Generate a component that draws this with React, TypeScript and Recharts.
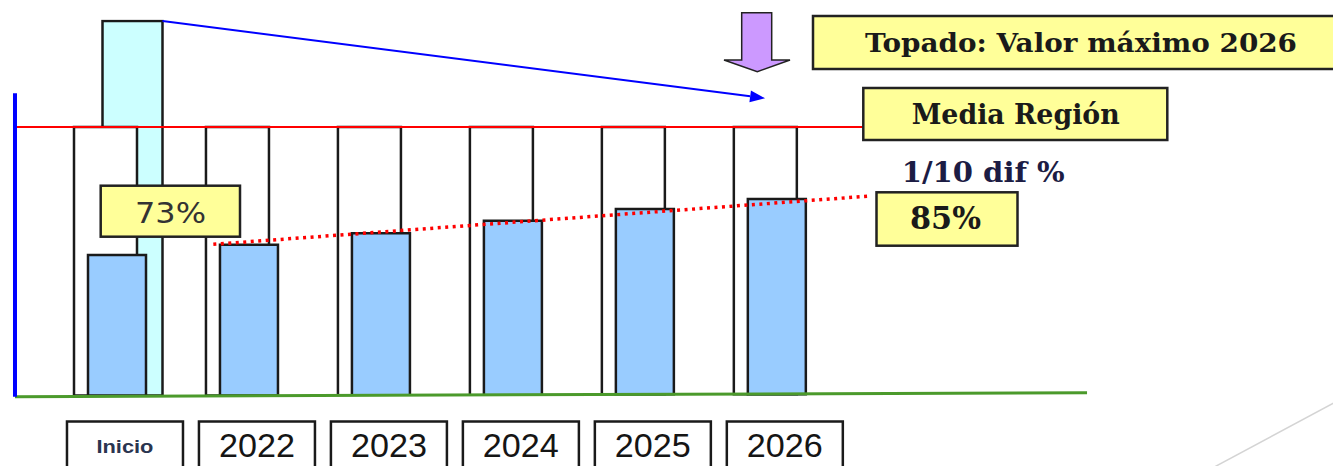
import { ComposedChart, Bar, XAxis, YAxis, ReferenceLine } from 'recharts';

// values, Media Región = 100
const categories = ['Inicio', '2022', '2023', '2024', '2025', '2026'];
const actualValues = [52.3, 56.1, 60.4, 65.1, 69.5, 73.2];
const mediaValues = [100, 100, 100, 100, 100, 100];
const maxValues = [139.5, null, null, null, null, null];

const mediaRegion = 100;
// trend / arrow on the hidden numeric axis: 0 = centre of "Inicio", 1 = "2022", ...
const trendLine = [{ x: 0.73, y: 56.3 }, { x: 5.71, y: 74.3 }];
const capArrow = [{ x: 0.345, y: 139.5 }, { x: 4.911, y: 110.7 }];

const data = categories.map((cat, i) => ({
  cat,
  actual: actualValues[i],
  media: mediaValues[i],
  max: maxValues[i],
}));

const W = 1333;
const H = 466;

const YearTick = (props: any) => {
  const { x, y, payload } = props;
  const label = payload.value as string;
  const cx = x + 8;
  const small = label === 'Inicio';
  return (
    <g>
      <rect x={cx - 58} y={y + 26} width={116} height={60} fill="#fff" stroke="#1a1a1a" strokeWidth={2.5} />
      <text
        x={cx}
        y={small ? y + 57.5 : y + 61.5}
        textAnchor="middle"
        fontFamily="'Liberation Sans', Arial, sans-serif"
        fontSize={small ? 19 : 33}
        fontWeight={small ? 700 : 400}
        fill={small ? '#2a3550' : '#151515'}
        textLength={small ? 57 : 76}
        lengthAdjust="spacingAndGlyphs"
      >
        {label}
      </text>
    </g>
  );
};

const ArrowLine = (props: any) => {
  const { x1, y1, x2, y2 } = props;
  const ang = Math.atan2(y2 - y1, x2 - x1);
  const len = 15;
  const half = 6;
  const bx = x2 - len * Math.cos(ang);
  const by = y2 - len * Math.sin(ang);
  const px = -Math.sin(ang) * half;
  const py = Math.cos(ang) * half;
  return (
    <g>
      <line x1={x1} y1={y1} x2={bx} y2={by} stroke="#0000ff" strokeWidth={2} />
      <polygon points={`${x2},${y2} ${bx + px},${by + py} ${bx - px},${by - py}`} fill="#0000ff" />
    </g>
  );
};

const serif = "'DejaVu Serif', 'Liberation Serif', serif";

export default function App() {
  return (
    <div style={{ position: 'absolute', left: 0, top: 0, width: W, height: H, background: '#fff' }}>
      <ComposedChart width={W} height={H} data={data} margin={{ top: 19.6, right: 246, left: 15, bottom: 0 }}>
        <XAxis
          xAxisId="actual"
          dataKey="cat"
          padding={{ left: 36, right: 244.2 }}
          height={70.5}
          axisLine={false}
          tickLine={false}
          tickSize={0}
          tickMargin={0}
          interval={0}
          tick={<YearTick />}
        />
        <XAxis xAxisId="media" dataKey="cat" hide padding={{ left: 25, right: 255.2 }} />
        <XAxis xAxisId="max" dataKey="cat" hide padding={{ left: 51.5, right: 228.7 }} />
        <XAxis
          xAxisId="pos"
          type="number"
          domain={[0, 5]}
          allowDataOverflow
          hide
          padding={{ left: 102, right: 310.2 }}
        />
        <YAxis hide domain={[0, 140]} allowDataOverflow />

        <Bar xAxisId="max" dataKey="max" barSize={60} fill="#ccffff" stroke="#1a1a1a" strokeWidth={2.5} isAnimationActive={false} />
        <Bar xAxisId="media" dataKey="media" barSize={63} fill="#ffffff" stroke="#1a1a1a" strokeWidth={2.5} isAnimationActive={false} />
        <Bar xAxisId="actual" dataKey="actual" barSize={58} fill="#99ccff" stroke="#1a1a1a" strokeWidth={2.5} isAnimationActive={false} />

        <ReferenceLine
          xAxisId="pos"
          segment={[{ x: -0.778, y: mediaRegion }, { x: 5.653, y: mediaRegion }]}
          stroke="#ff0000"
          strokeWidth={2}
          ifOverflow="visible"
        />
        <ReferenceLine
          xAxisId="pos"
          segment={trendLine}
          stroke="#ff0000"
          strokeWidth={3.5}
          strokeDasharray="3 4.5"
          ifOverflow="visible"
        />
        <ReferenceLine
          xAxisId="pos"
          segment={[{ x: -0.773, y: -0.45 }, { x: 7.351, y: 1.05 }]}
          stroke="#4b9a2b"
          strokeWidth={3}
          ifOverflow="visible"
        />
        <ReferenceLine
          xAxisId="pos"
          segment={[{ x: -0.773, y: -0.45 }, { x: -0.773, y: 112.6 }]}
          stroke="#0000ff"
          strokeWidth={4}
          ifOverflow="visible"
        />
        <ReferenceLine
          xAxisId="pos"
          segment={capArrow}
          ifOverflow="visible"
          shape={<ArrowLine />}
        />
      </ComposedChart>

      <svg width={W} height={H} style={{ position: 'absolute', left: 0, top: 0, pointerEvents: 'none' }}>
        <line x1={1345} y1={397} x2={1205} y2={472} stroke="#d4d4d4" strokeWidth={1.5} />

        <polygon
          points="741.7,12.7 771.7,12.7 771.7,60 790,60 757.3,71.7 724,60 741.7,60"
          fill="#cc99ff"
          stroke="#222"
          strokeWidth={1.5}
        />

        <rect x={813} y={16} width={530} height={53} fill="#ffff99" stroke="#222" strokeWidth={2.5} />
        <text x={865} y={51.7} fontFamily={serif} fontSize={26} fontWeight={700} fill="#1a1a1a" textLength={432} lengthAdjust="spacingAndGlyphs">
          Topado: Valor máximo 2026
        </text>

        <rect x={863.3} y={88} width={304} height={52} fill="#ffff99" stroke="#222" strokeWidth={2.5} />
        <text x={911.7} y={124} fontFamily={serif} fontSize={28} fontWeight={700} fill="#1a1a1a" textLength={208} lengthAdjust="spacingAndGlyphs">
          Media Región
        </text>

        <text x={901.7} y={181.7} fontFamily={serif} fontSize={28} fontWeight={700} fill="#1c1c44" textLength={163} lengthAdjust="spacingAndGlyphs">
          1/10 dif %
        </text>

        <rect x={876.5} y={192.3} width={141} height={53.4} fill="#ffff99" stroke="#222" strokeWidth={2.5} />
        <text x={910} y={229.3} fontFamily={serif} fontSize={31} fontWeight={700} fill="#1a1a1a" textLength={71} lengthAdjust="spacingAndGlyphs">
          85%
        </text>

        <rect x={100.7} y={185.7} width={139.3} height={51} fill="#ffff99" stroke="#222" strokeWidth={2.5} />
        <text x={135} y={223.3} fontFamily="'DejaVu Sans', sans-serif" fontSize={29} fill="#333" textLength={71} lengthAdjust="spacingAndGlyphs">
          73%
        </text>
      </svg>
    </div>
  );
}
